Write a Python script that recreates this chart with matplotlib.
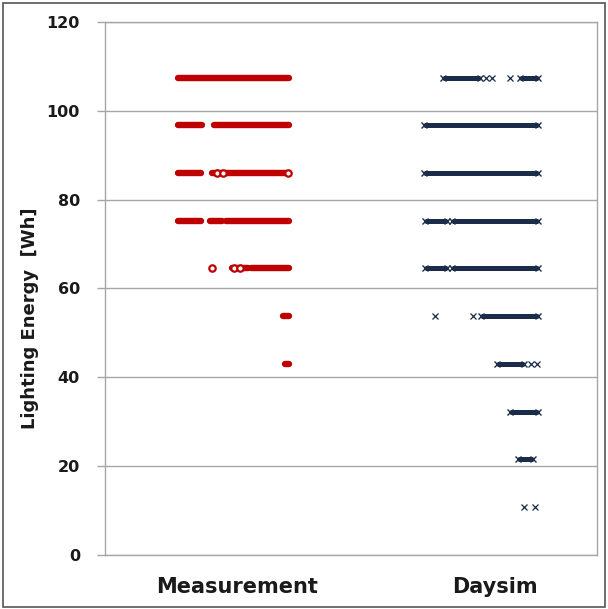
import matplotlib
matplotlib.use("Agg")
import matplotlib.pyplot as plt
from matplotlib.patches import Rectangle

# ---- data ----
categories = ["Measurement", "Daysim"]
category_label_x = [1.07, 3.17]
yticks = [0, 20, 40, 60, 80, 100, 120]

# energy levels (Wh) observed
levels = [107.5, 96.75, 86.0, 75.25, 64.5, 53.75, 43.0, 32.25, 21.5, 10.75]

# Measurement: dense runs of points (level, x_start, x_end) and isolated points (x, level)
meas_runs = [
    (107.5, 0.59, 1.50),
    (96.75, 0.59, 0.79), (96.75, 0.89, 1.50),
    (86.0, 0.59, 0.78), (86.0, 0.87, 1.50),
    (75.25, 0.59, 0.78), (75.25, 0.85, 0.95), (75.25, 0.98, 1.50),
    (64.5, 1.03, 1.16), (64.5, 1.19, 1.50),
    (53.75, 1.45, 1.50),
    (43.0, 1.46, 1.50),
]
meas_points_x = [0.87, 0.91, 0.96, 1.05, 1.10, 1.49]
meas_points_y = [64.5, 86.0, 86.0, 64.5, 64.5, 86.0]

# Daysim: dense runs and isolated points
day_runs = [
    (107.5, 2.75, 3.05), (107.5, 3.37, 3.52),
    (96.75, 2.59, 3.52),
    (86.0, 2.59, 3.52),
    (75.25, 2.60, 2.78), (75.25, 2.82, 3.52),
    (64.5, 2.60, 2.78), (64.5, 2.82, 3.52),
    (53.75, 3.06, 3.52),
    (43.0, 3.19, 3.41),
    (32.25, 3.29, 3.52),
    (21.5, 3.36, 3.48),
]
day_points_x = [3.10, 3.15, 3.29, 2.68, 2.99, 3.46, 3.51, 3.41, 3.50]
day_points_y = [107.5, 107.5, 107.5, 53.75, 53.75, 43.0, 43.0, 10.75, 10.75]

red = "#c00000"
navy = "#1b2b4a"
grid_c = "#a6a6a6"

fig = plt.figure(figsize=(6.08, 6.09), dpi=100)
ax = fig.add_axes([0.1727, 0.0887, 0.8092, 0.8752])

# Measurement
for (lv, x0, x1) in meas_runs:
    ax.plot([x0, x1], [lv, lv], color=red, lw=4.6, solid_capstyle="round", zorder=3)
ax.plot(meas_points_x, meas_points_y, ls="none", marker="o", ms=4.6, mfc="white", mec=red, mew=1.6, zorder=4)

# Daysim
for (lv, x0, x1) in day_runs:
    ax.plot([x0, x1], [lv, lv], color=navy, lw=3.6, solid_capstyle="butt", zorder=3)
    ax.plot([x0, x1], [lv, lv], ls="none", marker="x", ms=4.5, mec=navy, mew=1.0, zorder=4)
ax.plot(day_points_x, day_points_y, ls="none", marker="x", ms=4.5, mec=navy, mew=0.9, zorder=4)

ax.set_xlim(0, 4)
ax.set_ylim(0, 120)
ax.set_yticks(yticks)
ax.set_yticklabels([str(v) for v in yticks], fontsize=11.5, fontweight="bold", color="#1a1a1a")
ax.yaxis.grid(True, color=grid_c, lw=1.0)
ax.set_axisbelow(True)
ax.tick_params(axis="y", length=6, width=1, color=grid_c, pad=12)
ax.set_xticks(category_label_x)
ax.set_xticklabels(categories, fontsize=15, fontweight="bold", color="#1a1a1a")
ax.tick_params(axis="x", length=0, pad=16)
for s in ax.spines.values():
    s.set_color(grid_c)
    s.set_linewidth(1.0)

ax.set_ylabel("Lighting Energy  [Wh]", fontsize=13, fontweight="bold", color="#1a1a1a")
ax.yaxis.set_label_coords(-0.135, 0.445)

fig.patches.append(Rectangle((0.005, 0.003), 0.99, 0.992, transform=fig.transFigure,
                             fill=False, edgecolor="#555555", lw=1.2))

fig.savefig("out.png", dpi=100)
